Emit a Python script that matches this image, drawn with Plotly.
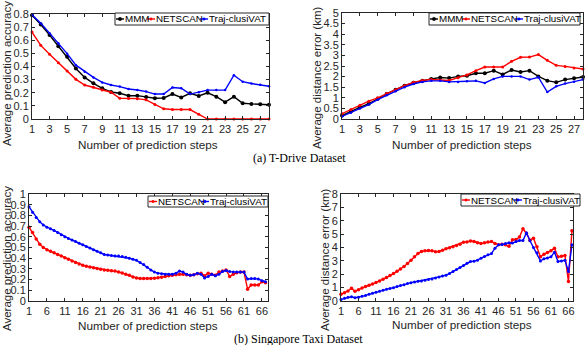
import plotly.graph_objects as go

W, H = 585, 345

# ---------------- data ----------------
steps_td = list(range(1, 29))
td_acc_mmm = [0.79, 0.72, 0.64, 0.555, 0.475, 0.385, 0.317, 0.272, 0.234, 0.206, 0.196, 0.177,
              0.178, 0.168, 0.158, 0.16, 0.19, 0.164, 0.196, 0.176, 0.20, 0.17, 0.128, 0.17,
              0.12, 0.115, 0.113, 0.108]
td_acc_netscan = [0.662, 0.561, 0.493, 0.428, 0.365, 0.302, 0.259, 0.241, 0.221, 0.204, 0.158, 0.156,
                  0.155, 0.146, 0.11, 0.078, 0.072, 0.072, 0.072, 0.036, 0.0, 0.0, 0.0, 0.0,
                  0.0, 0.0, 0.0, 0.0]
td_acc_traj = [0.795, 0.73, 0.654, 0.578, 0.498, 0.41, 0.36, 0.317, 0.279, 0.259, 0.247, 0.229,
               0.221, 0.209, 0.19, 0.19, 0.24, 0.234, 0.19, 0.204, 0.22, 0.22, 0.22, 0.334,
               0.284, 0.27, 0.26, 0.25]

td_err_mmm = [0.16, 0.36, 0.55, 0.72, 0.96, 1.18, 1.38, 1.57, 1.71, 1.81, 1.89, 1.96,
              1.93, 2.01, 2.04, 2.16, 2.16, 2.28, 2.1, 2.31, 2.22, 2.28, 2.01, 1.81,
              1.73, 1.86, 1.92, 1.98]
td_err_netscan = [0.25, 0.45, 0.65, 0.84, 1.0, 1.2, 1.38, 1.57, 1.73, 1.82, 1.86, 1.84,
                  1.82, 1.95, 2.08, 2.28, 2.45, 2.45, 2.45, 2.72, 2.91, 2.92, 3.04, 2.77,
                  2.53, 2.48, 2.41, 2.36]
td_err_traj = [0.12, 0.3, 0.49, 0.68, 0.91, 1.12, 1.31, 1.5, 1.65, 1.75, 1.8, 1.8,
               1.75, 1.75, 1.78, 1.8, 1.7, 1.89, 2.01, 2.01, 2.01, 1.86, 1.97, 1.27,
               1.54, 1.67, 1.76, 1.86]

steps_sg = list(range(1, 68))
sg_acc_netscan = [0.69, 0.64, 0.58, 0.53, 0.50, 0.48, 0.465, 0.45, 0.435, 0.42,
                  0.405, 0.39, 0.375, 0.36, 0.345, 0.335, 0.325, 0.318, 0.31, 0.303,
                  0.297, 0.29, 0.287, 0.283, 0.28, 0.272, 0.262, 0.25, 0.24, 0.225,
                  0.215, 0.21, 0.21, 0.21, 0.21, 0.212, 0.218, 0.222, 0.228, 0.235,
                  0.24, 0.245, 0.25, 0.25, 0.245, 0.24, 0.245, 0.255, 0.26, 0.235,
                  0.26, 0.25, 0.24, 0.27, 0.28, 0.29, 0.23, 0.25, 0.265, 0.27,
                  0.27, 0.11, 0.15, 0.15, 0.15, 0.18, 0.17]
sg_acc_traj = [0.88, 0.83, 0.78, 0.74, 0.71, 0.69, 0.675, 0.66, 0.64, 0.62,
               0.60, 0.585, 0.57, 0.555, 0.54, 0.525, 0.51, 0.495, 0.48, 0.465,
               0.45, 0.435, 0.43, 0.425, 0.42, 0.42, 0.415, 0.41, 0.40, 0.39,
               0.38, 0.36, 0.34, 0.315, 0.29, 0.27, 0.26, 0.255, 0.25, 0.25,
               0.25, 0.26, 0.28, 0.27, 0.25, 0.24, 0.245, 0.26, 0.25, 0.215,
               0.23, 0.25, 0.235, 0.25, 0.275, 0.285, 0.275, 0.27, 0.27, 0.27,
               0.27, 0.205, 0.21, 0.21, 0.205, 0.19, 0.18]
sg_err_netscan = [0.5, 0.62, 0.75, 0.95, 0.72, 0.85, 0.97, 1.08, 1.18, 1.28,
                  1.38, 1.5, 1.62, 1.75, 1.9, 2.05, 2.22, 2.4, 2.58, 2.8,
                  3.05, 3.3, 3.55, 3.7, 3.75, 3.78, 3.75, 3.68, 3.7, 3.8,
                  3.9, 3.98, 4.05, 4.15, 4.25, 4.4, 4.42, 4.48, 4.45, 4.35,
                  4.3, 4.35, 4.42, 4.45, 4.3, 4.2, 4.25, 4.2, 4.1, 4.58,
                  4.6, 4.78, 5.4, 5.05, 4.55, 4.7, 4.05, 3.3, 3.5, 3.62,
                  3.75, 3.95, 3.3, 3.35, 3.4, 1.45, 5.25]
sg_err_traj = [0.12, 0.2, 0.28, 0.32, 0.25, 0.28, 0.35, 0.42, 0.5, 0.58,
               0.65, 0.72, 0.8, 0.87, 0.94, 1.0, 1.08, 1.15, 1.22, 1.3,
               1.37, 1.42, 1.47, 1.5, 1.55, 1.6, 1.65, 1.72, 1.8, 1.87,
               1.93, 2.05, 2.2, 2.35, 2.5, 2.65, 2.82, 2.95, 2.98, 3.05,
               3.2, 3.32, 3.45, 3.55, 3.95, 4.2, 4.22, 4.3, 4.35, 4.33,
               4.45, 4.52, 4.52, 5.1, 4.5, 4.0, 3.6, 3.0, 3.15, 3.22,
               3.3, 3.65, 2.95, 3.0, 3.05, 2.2, 4.2]

names = ["MMM", "NETSCAN", "Traj-clusiVAT"]
colors = {"MMM": "#000000", "NETSCAN": "#ff0000", "Traj-clusiVAT": "#0000ff"}
msize = {"MMM": 4, "NETSCAN": 3, "Traj-clusiVAT": 2.5}

x_title = "Number of prediction steps"
y_titles = ["Average prediction accuracy", "Average distance error (km)",
            "Average prediction accuracy", "Average distance error (km)"]
captions = ["(a) T-Drive Dataset", "(b) Singapore Taxi Dataset"]

# ---------------- layout helpers ----------------
def px_x(p):
    return p / W

def px_y(p):
    return 1 - p / H

TXT = "#262626"
FONT = "Liberation Sans, Arial, sans-serif"

fig = go.Figure()

panels = [
    # (axis id, box px (l, t, r, b), xrange, xdtick, yrange, ydtick, series)
    ("", (32, 14, 269, 119), [1, 28], 2, [0, 0.8], 0.1,
     [("MMM", steps_td, td_acc_mmm), ("NETSCAN", steps_td, td_acc_netscan),
      ("Traj-clusiVAT", steps_td, td_acc_traj)]),
    ("2", (342, 13, 583, 119), [1, 28], 2, [0, 5], 0.5,
     [("MMM", steps_td, td_err_mmm), ("NETSCAN", steps_td, td_err_netscan),
      ("Traj-clusiVAT", steps_td, td_err_traj)]),
    ("3", (29, 194, 268, 301), [1, 67.7], 5, [0, 1], 0.1,
     [("NETSCAN", steps_sg, sg_acc_netscan), ("Traj-clusiVAT", steps_sg, sg_acc_traj)]),
    ("4", (341, 194, 573, 301), [1, 67.3], 5, [0, 8], 1,
     [("NETSCAN", steps_sg, sg_err_netscan), ("Traj-clusiVAT", steps_sg, sg_err_traj)]),
]

for ax, (l, t, r, b), xr, xd, yr, yd, series in panels:
    for name, xs, ys in series:
        fig.add_trace(go.Scatter(
            x=xs, y=ys, mode="lines+markers", name=name, showlegend=False,
            line=dict(color=colors[name], width=1.4),
            marker=dict(color=colors[name], size=msize[name] + (0.5 if ax in ("3", "4") else 0)),
            cliponaxis=False,
            xaxis="x" + ax, yaxis="y" + ax))
    common = dict(showline=True, linecolor=TXT, linewidth=1, mirror="ticks",
                  ticks="inside", ticklen=3, tickcolor=TXT, showgrid=False, zeroline=False,
                  tickfont=dict(family=FONT, size=11, color=TXT), automargin=False)
    fig.update_layout(**{
        "xaxis" + ax: dict(domain=[px_x(l), px_x(r)], range=xr, tick0=1, dtick=xd,
                           anchor="y" + ax, **common),
        "yaxis" + ax: dict(domain=[px_y(b), px_y(t)], range=yr, tick0=0, dtick=yd,
                           anchor="x" + ax, **common),
    })

annotations = []
shapes = []

# axis titles
xt_pos = [(148, 144), (462, 144), (148, 325), (462, 324)]
yt_pos = [(7, 74), (317, 78), (7, 259), (325, 260)]
for (xx, yy) in xt_pos:
    annotations.append(dict(text=x_title, x=px_x(xx), y=px_y(yy), xref="paper", yref="paper",
                            showarrow=False, xanchor="center", yanchor="middle",
                            font=dict(family=FONT, size=11.7, color=TXT)))
for (xx, yy), tt in zip(yt_pos, y_titles):
    annotations.append(dict(text=tt, x=px_x(xx), y=px_y(yy), xref="paper", yref="paper",
                            showarrow=False, xanchor="center", yanchor="middle", textangle=-90,
                            borderpad=0,
                            font=dict(family=FONT, size=11.5, color=TXT)))

# captions
for (xx, yy), tt in zip([(299, 158), (298, 339)], captions):
    annotations.append(dict(text=tt, x=px_x(xx), y=px_y(yy), xref="paper", yref="paper",
                            showarrow=False, xanchor="center", yanchor="middle",
                            font=dict(family="Liberation Serif, Times New Roman, serif",
                                      size=12, color="#000000")))

# custom compact legends (MATLAB style)
legends = [
    ((115, 13, 269, 25), 19, [("MMM", 116), ("NETSCAN", 147), ("Traj-clusiVAT", 200)]),
    ((429, 13, 580, 25), 19, [("MMM", 430), ("NETSCAN", 462), ("Traj-clusiVAT", 515)]),
    ((148, 196, 268, 207), 201.5, [("NETSCAN", 149), ("Traj-clusiVAT", 201)]),
    ((461, 194, 580, 206), 200, [("NETSCAN", 462), ("Traj-clusiVAT", 514)]),
]
for (l, t, r, b), yc, items in legends:
    shapes.append(dict(type="rect", xref="paper", yref="paper",
                       x0=px_x(l), x1=px_x(r), y0=px_y(b), y1=px_y(t),
                       line=dict(color=TXT, width=1), fillcolor="white", layer="above"))
    for name, sx in items:
        shapes.append(dict(type="line", xref="paper", yref="paper",
                           x0=px_x(sx), x1=px_x(sx + 8), y0=px_y(yc), y1=px_y(yc),
                           line=dict(color=colors[name], width=1.4), layer="above"))
        rr = 1.7 if name == "MMM" else 1.2
        cx = sx + 4
        shapes.append(dict(type="circle", xref="paper", yref="paper",
                           x0=px_x(cx - rr), x1=px_x(cx + rr), y0=px_y(yc + rr), y1=px_y(yc - rr),
                           line=dict(color=colors[name], width=0.5), fillcolor=colors[name],
                           layer="above"))
        annotations.append(dict(text=name, x=px_x(sx + 8), y=px_y(yc), xref="paper", yref="paper",
                                showarrow=False, xanchor="left", yanchor="middle", borderpad=0,
                                font=dict(family=FONT, size=9.8, color="#000000")))

fig.update_layout(
    width=W, height=H, margin=dict(l=0, r=0, t=0, b=0),
    paper_bgcolor="white", plot_bgcolor="white",
    showlegend=False, annotations=annotations, shapes=shapes,
)

fig.write_html("out.html")
